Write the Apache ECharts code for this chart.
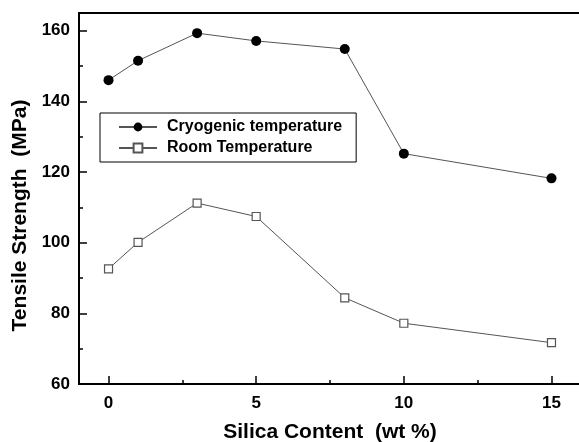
<!DOCTYPE html>
<html>
<head>
<meta charset="utf-8">
<script src="https://cdn.jsdelivr.net/npm/echarts@6/dist/echarts.min.js"></script>
<style>
  html, body { margin: 0; padding: 0; background: #fff; }
  #chart { width: 579px; height: 442px; }
</style>
</head>
<body>
<div id="chart"></div>
<script>
// silica content (wt %)
const silica = [0, 1, 3, 5, 8, 10, 15];
// tensile strength (MPa)
const cryogenic = [146.0, 151.5, 159.3, 157.1, 154.8, 125.2, 118.2];
const roomTemp = [92.6, 100.1, 111.2, 107.4, 84.4, 77.2, 71.7];

const seriesNames = ['Cryogenic temperature', 'Room Temperature'];
const xTicks = [0, 5, 10, 15];
const xMinorTicks = [2.5, 7.5, 12.5];
const xTitle = 'Silica Content  (wt %)';
const yTitle = 'Tensile Strength  (MPa)';

const font = 'Liberation Sans, Arial, sans-serif';

const chart = echarts.init(document.getElementById('chart'), null, { renderer: 'canvas' });

const labelStyle = { color: '#000', fontFamily: font, fontWeight: 'bold', fontSize: 17 };
const titleStyle = { color: '#000', fontFamily: font, fontWeight: 'bold', fontSize: 21 };
const tickLine = { color: '#000', width: 1.5 };

chart.setOption({
  animation: false,
  backgroundColor: '#fff',
  grid: {
    left: 79, right: -2, top: 13, bottom: 58,
    outerBoundsMode: 'none',
    containLabel: false,
    show: true, borderColor: '#000', borderWidth: 2
  },
  legend: {
    orient: 'vertical',
    left: 100, top: 113,
    padding: [6, 14, 6, 18],
    itemGap: 5,
    itemWidth: 38,
    itemHeight: 11,
    borderColor: '#000',
    borderWidth: 1,
    textStyle: Object.assign({}, labelStyle, { fontSize: 16, padding: [0, 0, 0, 5] }),
    data: seriesNames
  },
  xAxis: [
    {
      type: 'value',
      min: -1, max: 16,
      name: xTitle,
      nameLocation: 'middle',
      nameGap: 38,
      nameTextStyle: titleStyle,
      axisLine: { show: true, onZero: false, lineStyle: { color: '#000', width: 2 } },
      axisTick: { show: true, inside: true, length: 8, customValues: xTicks, lineStyle: tickLine },
      axisLabel: Object.assign({}, labelStyle, { margin: 11, customValues: xTicks }),
      splitLine: { show: false }
    },
    {
      // minor ticks only
      type: 'value',
      position: 'bottom',
      min: -1, max: 16,
      axisLine: { show: false },
      axisTick: { show: true, inside: true, length: 4, customValues: xMinorTicks, lineStyle: tickLine },
      axisLabel: { show: false },
      splitLine: { show: false }
    }
  ],
  yAxis: {
    type: 'value',
    min: 60, max: 165,
    interval: 20,
    name: yTitle,
    nameLocation: 'middle',
    nameGap: 45,
    nameTextStyle: Object.assign({}, titleStyle, { padding: [0, 34, 0, 0] }),
    axisLine: { show: true, onZero: false, lineStyle: { color: '#000', width: 2 } },
    axisTick: { show: true, inside: true, length: 8, lineStyle: tickLine },
    minorTick: { show: true, splitNumber: 2, length: 4, lineStyle: tickLine },
    axisLabel: Object.assign({}, labelStyle, { margin: 9, showMaxLabel: false }),
    splitLine: { show: false }
  },
  series: [
    {
      name: seriesNames[0],
      type: 'line',
      data: silica.map((x, i) => [x, cryogenic[i]]),
      symbol: 'circle',
      symbolSize: 10,
      itemStyle: { color: '#000', borderColor: '#000', borderWidth: 0 },
      lineStyle: { color: '#555', width: 1 }
    },
    {
      name: seriesNames[1],
      type: 'line',
      data: silica.map((x, i) => [x, roomTemp[i]]),
      symbol: 'rect',
      symbolSize: 8,
      itemStyle: { color: '#fff', borderColor: '#555', borderWidth: 1.2 },
      lineStyle: { color: '#555', width: 1 }
    }
  ]
});
</script>
</body>
</html>
